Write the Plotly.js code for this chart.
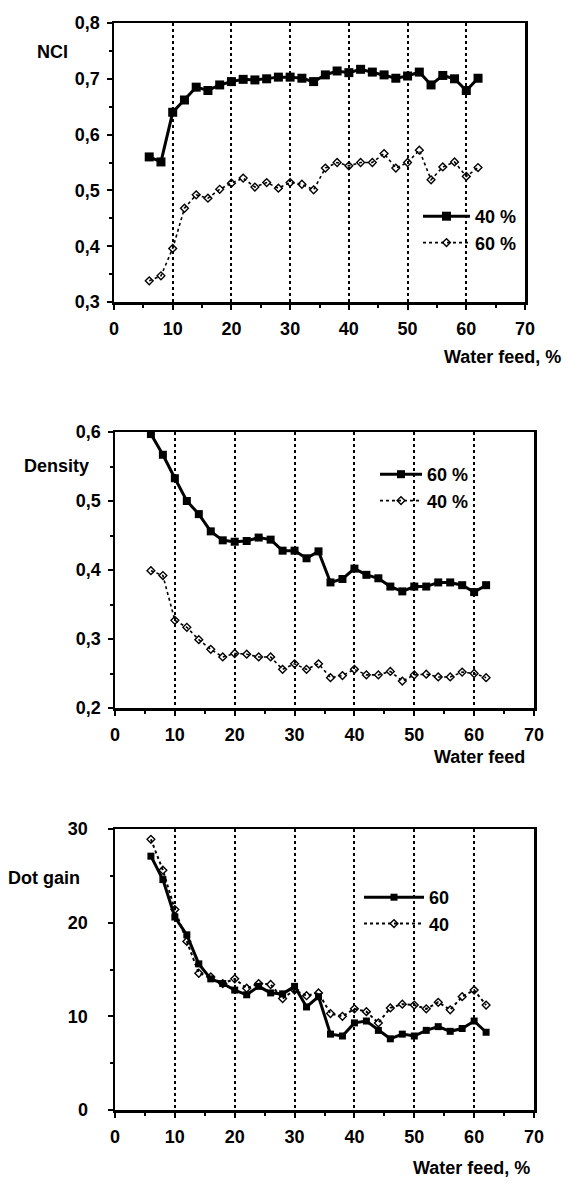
<!DOCTYPE html>
<html>
<head>
<meta charset="utf-8">
<script src="https://cdn.plot.ly/plotly-3.0.1.min.js"></script>
<style>
  html, body { margin: 0; padding: 0; background: #fff; }
  #chart { width: 567px; height: 1183px; }
</style>
</head>
<body>
<div id="chart"></div>
<script>
// ---- data ----
const waterFeed = [6, 8, 10, 12, 14, 16, 18, 20, 22, 24, 26, 28, 30, 32, 34, 36, 38, 40, 42, 44, 46, 48, 50, 52, 54, 56, 58, 60, 62];

const nci40 = [0.560, 0.551, 0.640, 0.662, 0.685, 0.679, 0.689, 0.695, 0.699, 0.698, 0.700, 0.703, 0.703, 0.701, 0.695, 0.707, 0.714, 0.711, 0.717, 0.712, 0.707, 0.701, 0.705, 0.712, 0.689, 0.706, 0.700, 0.679, 0.701];
const nci60 = [0.338, 0.347, 0.396, 0.468, 0.492, 0.486, 0.502, 0.513, 0.522, 0.506, 0.514, 0.504, 0.514, 0.511, 0.501, 0.540, 0.550, 0.544, 0.550, 0.550, 0.566, 0.540, 0.550, 0.572, 0.519, 0.542, 0.551, 0.525, 0.541];

const density60 = [0.597, 0.567, 0.533, 0.500, 0.481, 0.456, 0.443, 0.441, 0.442, 0.447, 0.444, 0.428, 0.428, 0.417, 0.427, 0.382, 0.387, 0.402, 0.393, 0.388, 0.376, 0.369, 0.376, 0.376, 0.382, 0.382, 0.378, 0.368, 0.378];
const density40 = [0.399, 0.392, 0.327, 0.317, 0.299, 0.285, 0.274, 0.279, 0.278, 0.274, 0.274, 0.256, 0.264, 0.256, 0.264, 0.244, 0.247, 0.256, 0.248, 0.248, 0.253, 0.239, 0.248, 0.249, 0.245, 0.245, 0.252, 0.250, 0.244];

const dotGain60 = [27.1, 24.6, 20.6, 18.7, 15.6, 14.0, 13.5, 12.8, 12.3, 13.2, 12.5, 12.4, 13.2, 11.0, 12.1, 8.1, 7.9, 9.3, 9.5, 8.5, 7.6, 8.1, 7.9, 8.5, 8.9, 8.4, 8.7, 9.5, 8.3];
const dotGain40 = [28.9, 25.6, 21.4, 18.0, 14.6, 14.2, 13.5, 14.0, 13.0, 13.5, 13.4, 11.9, 12.8, 12.2, 12.5, 10.3, 10.0, 10.8, 10.5, 9.3, 10.9, 11.3, 11.2, 10.8, 11.5, 10.7, 12.1, 12.8, 11.2];

const xTicks = [0, 10, 20, 30, 40, 50, 60, 70];
const nciTicks = [0.3, 0.4, 0.5, 0.6, 0.7, 0.8];
const densityTicks = [0.2, 0.3, 0.4, 0.5, 0.6];
const dotGainTicks = [0, 10, 20, 30];

const legendNames1 = ['40 %', '60 %'];
const legendNames2 = ['60 %', '40 %'];
const legendNames3 = ['60', '40'];
const yTitles = ['NCI', 'Density', 'Dot gain'];
const xTitles = ['Water feed, %', 'Water feed', 'Water feed, %'];

// ---- layout helpers ----
const W = 567, H = 1183;
const FONT = 'Liberation Sans, Arial, Helvetica, sans-serif';
const px = v => v / W;
const py = v => 1 - v / H;
const TXT = { family: FONT, size: 18, color: '#000', weight: 'bold' };

const thick = (name, x, y, xa, ya, leg, msize) => ({
  type: 'scatter', mode: 'lines+markers', name, x, y, xaxis: xa, yaxis: ya, legend: leg,
  line: { color: '#000', width: 3 },
  marker: { symbol: 'square', size: msize, color: '#000' },
  cliponaxis: false
});
const thin = (name, x, y, xa, ya, leg, w, msize) => ({
  type: 'scatter', mode: 'lines+markers', name, x, y, xaxis: xa, yaxis: ya, legend: leg,
  line: { color: '#000', width: w, dash: 'dot' },
  marker: { symbol: 'diamond-open', size: msize, color: '#000', line: { width: 1.4, color: '#000' } },
  cliponaxis: false
});

const traces = [
  thick(legendNames1[0], waterFeed, nci40, 'x', 'y', 'legend', 9),
  thin(legendNames1[1], waterFeed, nci60, 'x', 'y', 'legend', 1.6, 6),
  thick(legendNames2[0], waterFeed, density60, 'x2', 'y2', 'legend2', 8),
  thin(legendNames2[1], waterFeed, density40, 'x2', 'y2', 'legend2', 1.6, 6),
  thick(legendNames3[0], waterFeed, dotGain60, 'x3', 'y3', 'legend3', 7),
  thin(legendNames3[1], waterFeed, dotGain40, 'x3', 'y3', 'legend3', 2, 6)
];

function xAxis(domain, anchor) {
  return {
    domain, anchor, range: [0, 70], tickvals: xTicks, ticktext: xTicks.map(String),
    showline: true, linecolor: '#000', linewidth: 2.5, mirror: true,
    ticks: 'outside', ticklen: 5, tickwidth: 2, tickcolor: '#000',
    minor: { dtick: 5, tick0: 0, ticks: 'outside', ticklen: 3, tickwidth: 2, tickcolor: '#000', showgrid: false },
    showgrid: true, gridcolor: '#000', gridwidth: 2, griddash: 'dot',
    zeroline: false, ticklabelstandoff: 4,
    tickfont: TXT, fixedrange: true
  };
}
function yAxis(domain, anchor, range, ticks, dminor, fmt, standoff) {
  return {
    domain, anchor, range, tickvals: ticks, tickformat: fmt,
    showline: true, linecolor: '#000', linewidth: 2.5, mirror: true,
    ticks: 'outside', ticklen: 5, tickwidth: 2, tickcolor: '#000',
    minor: { dtick: dminor, ticks: 'outside', ticklen: 3, tickwidth: 2, tickcolor: '#000', showgrid: false },
    showgrid: false, zeroline: false, ticklabelstandoff: standoff,
    tickfont: TXT, fixedrange: true
  };
}
function legendAt(x, y, iw) {
  return {
    x: px(x), y: py(y), xanchor: 'left', yanchor: 'top',
    bgcolor: 'rgba(0,0,0,0)', borderwidth: 0, itemwidth: iw,
    font: TXT, tracegroupgap: 0
  };
}

const ann = (text, x, y, xanchor) => ({
  text, xref: 'paper', yref: 'paper', x: px(x), y: py(y), xanchor, yanchor: 'middle',
  showarrow: false, font: TXT
});

const layout = {
  width: W, height: H, margin: { l: 0, r: 0, t: 0, b: 0 },
  paper_bgcolor: '#fff', plot_bgcolor: '#fff',
  separators: ', ', showlegend: true,
  xaxis: xAxis([px(114), px(525)], 'y'),
  yaxis: yAxis([py(302), py(23)], 'x', [0.3, 0.8], nciTicks, 0.05, '.1f', 3),
  xaxis2: xAxis([px(115), px(534)], 'y2'),
  yaxis2: yAxis([py(708), py(432)], 'x2', [0.2, 0.6], densityTicks, 0.05, '.1f', 3),
  xaxis3: xAxis([px(115), px(534)], 'y3'),
  yaxis3: yAxis([py(1110), py(829)], 'x3', [0, 30], dotGainTicks, 5, 'd', 16),
  legend: legendAt(418, 198, 47),
  legend2: legendAt(375, 456, 42),
  legend3: legendAt(359, 879, 60),
  annotations: [
    ann(yTitles[0], 35, 52, 'left'),
    ann(xTitles[0], 563, 357, 'right'),
    ann(yTitles[1], 22, 466, 'left'),
    ann(xTitles[1], 527, 757, 'right'),
    ann(yTitles[2], 6, 878, 'left'),
    ann(xTitles[2], 532, 1168, 'right')
  ]
};

Plotly.newPlot('chart', traces, layout, { staticPlot: true, displayModeBar: false });
</script>
</body>
</html>
